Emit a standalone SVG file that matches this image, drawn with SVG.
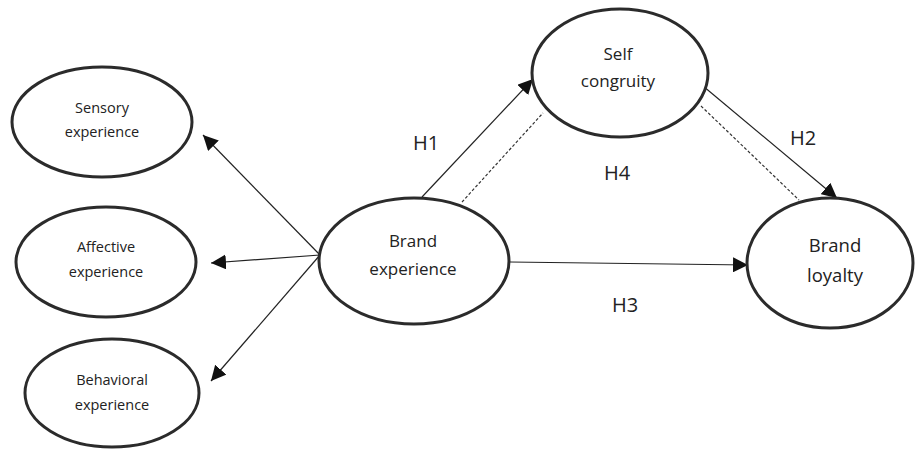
<svg xmlns="http://www.w3.org/2000/svg" width="916" height="450" viewBox="0 0 916 450">
<style>
.node{fill:#fff;stroke:#2b2b2b;stroke-width:3}
.t{font-family:"Open Sans","Noto Sans",sans-serif;fill:#222;text-anchor:middle}
.s{font-size:14.5px}
.m{font-size:17px}
.l{font-size:18.5px}
.h{font-family:"Open Sans","Noto Sans",sans-serif;fill:#222;font-size:20px;text-anchor:middle}
.c{stroke:#222;stroke-width:1.2;fill:none}
.d{stroke:#333;stroke-width:1.2;fill:none;stroke-dasharray:3,2}
</style>
<defs>
<marker id="a" viewBox="0 0 10 10" refX="10" refY="5" markerWidth="15" markerHeight="15" markerUnits="userSpaceOnUse" orient="auto">
<path d="M0,0 L10,5 L0,10 Z" fill="#111"/>
</marker>
</defs>
<g id="connectors">
<line class="c" x1="320" y1="255" x2="203" y2="135" marker-end="url(#a)"/>
<line class="c" x1="320" y1="255" x2="211" y2="263" marker-end="url(#a)"/>
<line class="c" x1="320" y1="255" x2="211" y2="381" marker-end="url(#a)"/>
<line class="c" x1="422" y1="197" x2="533" y2="79" marker-end="url(#a)"/>
<line class="d" x1="462" y1="202" x2="543" y2="113"/>
<line class="c" x1="703" y1="86" x2="837" y2="198" marker-end="url(#a)"/>
<line class="d" x1="701" y1="106" x2="799" y2="200"/>
<line class="c" x1="510" y1="262" x2="748" y2="265" marker-end="url(#a)"/>
<text class="h" x="426" y="150">H1</text>
<text class="h" x="617" y="180">H4</text>
<text class="h" x="803" y="145">H2</text>
<text class="h" x="625" y="312">H3</text>
</g>
<g id="sensory">
<ellipse class="node" cx="102" cy="122" rx="90" ry="55"/>
<text class="t s" x="102" y="113">Sensory</text>
<text class="t s" x="102" y="137">experience</text>
</g>
<g id="affective">
<ellipse class="node" cx="106" cy="262" rx="90" ry="55"/>
<text class="t s" x="106" y="252">Affective</text>
<text class="t s" x="106" y="277">experience</text>
</g>
<g id="behavioral">
<ellipse class="node" cx="112" cy="393" rx="87" ry="54"/>
<text class="t s" x="112" y="385">Behavioral</text>
<text class="t s" x="112" y="410">experience</text>
</g>
<g id="brand-experience">
<ellipse class="node" cx="414" cy="261" rx="95" ry="63"/>
<text class="t m" x="413" y="247">Brand</text>
<text class="t m" x="413" y="275">experience</text>
</g>
<g id="self-congruity">
<ellipse class="node" cx="620" cy="73" rx="88" ry="64"/>
<text class="t m" x="618" y="60">Self</text>
<text class="t m" x="618" y="87">congruity</text>
</g>
<g id="brand-loyalty">
<ellipse class="node" cx="830" cy="263" rx="83" ry="65"/>
<text class="t l" x="835" y="252">Brand</text>
<text class="t l" x="835" y="282">loyalty</text>
</g>
</svg>
